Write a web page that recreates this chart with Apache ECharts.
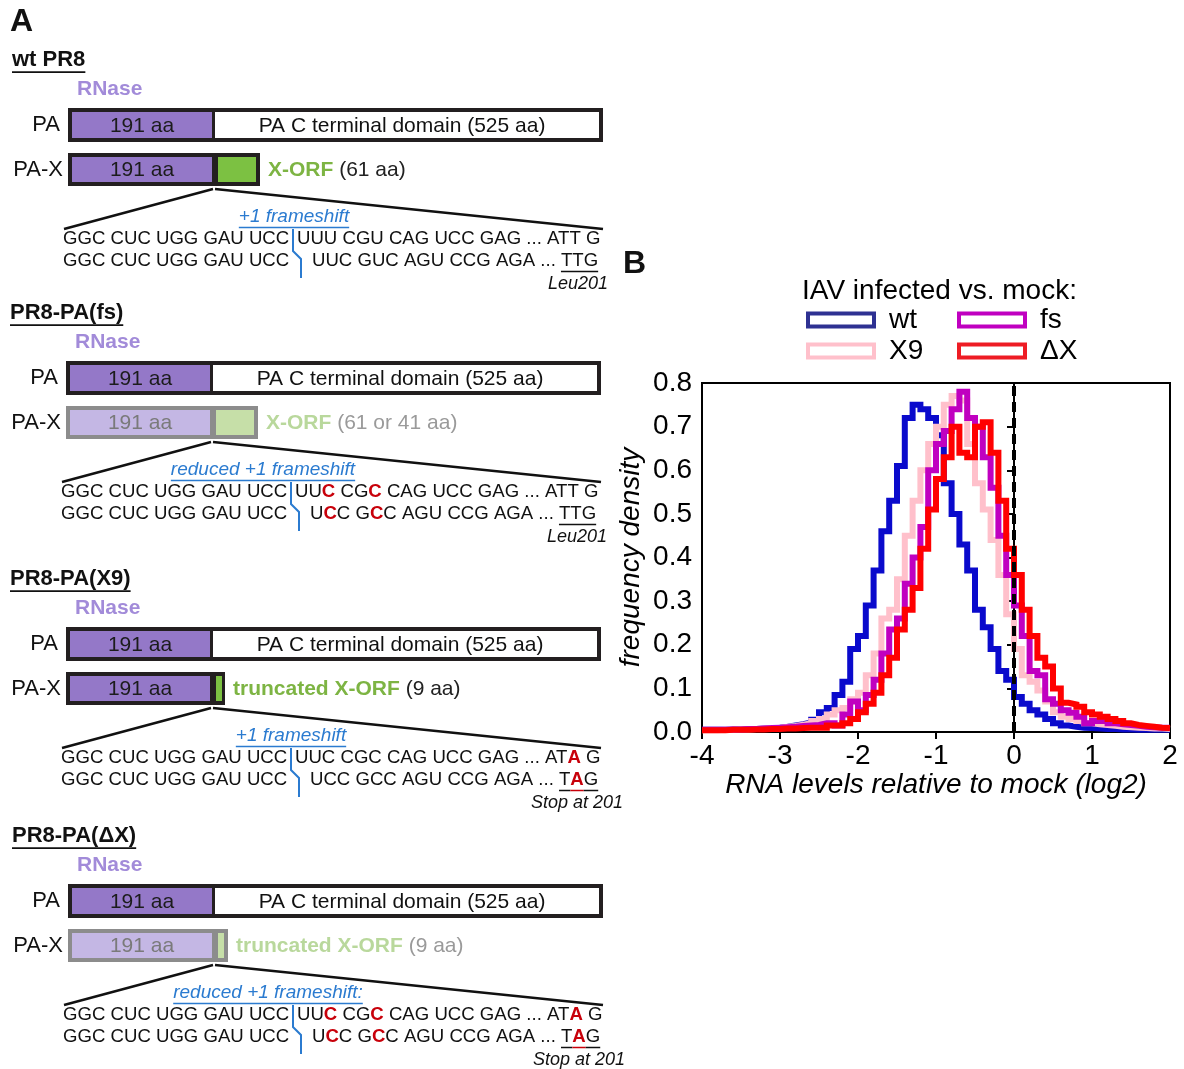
<!DOCTYPE html>
<html>
<head>
<meta charset="utf-8">
<script src="https://cdn.jsdelivr.net/npm/echarts@6/dist/echarts.min.js"></script>
<style>
html, body { margin: 0; padding: 0; background: #fff; }
#chart { width: 1184px; height: 1069px; }
</style>
</head>
<body>
<div id="chart"></div>
<script>
const FONT = "'Liberation Sans', Arial, Helvetica, sans-serif"
const INK = '#111'
const RED = '#c8000a'
const BLUE = '#2b7bd0'
const PURPLE = '#9478c8'
const PURPLE_L = '#c4b7e4'
const GREEN = '#7cc142'
const GREEN_L = '#c6dfa8'

// histogram bins: left edges start at -4, width 0.1 (60 bins to 2.0)
const binStart = -4
const binWidth = 0.1
const wtDensity = [
  0.005, 0.005, 0.005, 0.006, 0.006, 0.007, 0.007, 0.008, 0.009, 0.010,
  0.012, 0.015, 0.018, 0.022, 0.028, 0.045, 0.055, 0.085, 0.115, 0.19,
  0.22, 0.29, 0.37, 0.46, 0.53, 0.61, 0.72, 0.75, 0.74, 0.72,
  0.68, 0.57, 0.50, 0.43, 0.37, 0.28, 0.24, 0.19, 0.14, 0.12,
  0.08, 0.065, 0.05, 0.04, 0.03, 0.02, 0.015, 0.012, 0.010, 0.009,
  0.008, 0.007, 0.007, 0.006, 0.006, 0.005, 0.005, 0.005, 0.005, 0.005
]
const x9Density = [
  0.004, 0.004, 0.005, 0.005, 0.006, 0.006, 0.007, 0.008, 0.009, 0.010,
  0.012, 0.014, 0.017, 0.020, 0.025, 0.03, 0.04, 0.05, 0.055, 0.075,
  0.09, 0.13, 0.18, 0.26, 0.28, 0.35, 0.45, 0.53, 0.60, 0.66,
  0.70, 0.75, 0.77, 0.76, 0.66, 0.57, 0.51, 0.44, 0.36, 0.27,
  0.19, 0.13, 0.115, 0.095, 0.07, 0.045, 0.035, 0.03, 0.025, 0.02,
  0.018, 0.016, 0.014, 0.012, 0.011, 0.010, 0.009, 0.008, 0.008, 0.007
]
const fsDensity = [
  0.005, 0.005, 0.005, 0.006, 0.006, 0.007, 0.007, 0.008, 0.009, 0.010,
  0.011, 0.012, 0.014, 0.015, 0.016, 0.02, 0.02, 0.015, 0.04, 0.07,
  0.05, 0.085, 0.12, 0.18, 0.235, 0.26, 0.34, 0.40, 0.47, 0.60,
  0.66, 0.69, 0.74, 0.78, 0.72, 0.70, 0.63, 0.56, 0.45, 0.36,
  0.29, 0.22, 0.14, 0.13, 0.075, 0.065, 0.05, 0.044, 0.035, 0.02,
  0.025, 0.025, 0.02, 0.018, 0.016, 0.014, 0.012, 0.011, 0.010, 0.010
]
const dxDensity = [
  0.004, 0.004, 0.004, 0.005, 0.005, 0.005, 0.006, 0.006, 0.007, 0.007,
  0.008, 0.008, 0.009, 0.010, 0.010, 0.01, 0.015, 0.015, 0.02, 0.03,
  0.045, 0.065, 0.09, 0.13, 0.17, 0.235, 0.28, 0.33, 0.42, 0.51,
  0.58, 0.63, 0.70, 0.64, 0.63, 0.70, 0.71, 0.64, 0.53, 0.42,
  0.36, 0.28, 0.22, 0.17, 0.15, 0.10, 0.067, 0.063, 0.058, 0.045,
  0.04, 0.035, 0.03, 0.025, 0.02, 0.016, 0.014, 0.012, 0.010, 0.009
]
const seriesNames = ['wt', 'X9', 'fs', 'ΔX']
const seriesValues = [wtDensity, x9Density, fsDensity, dxDensity]
const seriesColors = ['#0a0acc', '#ffc0cb', '#c000c0', '#ff0000']
const legendColors = ['#2e3192', '#ffc0cb', '#c000c0', '#ee1c24']

// panel A constructs
const blocks = [
  {
    dx: 0, dy: 0, title: 'wt PR8', faded: false, paxW: 192, orfW: 38,
    orfLabel: 'X-ORF', orfLen: '(61 aa)', shift: '+1 frameshift', shiftCx: 294,
    seq1: [['UUU CGU CAG UCC GAG ... ATT G']],
    seq2: [['UUC GUC AGU CCG AGA ... '], ['TTG', 'u']],
    note: 'Leu201', noteX: 608
  },
  {
    dx: -2, dy: 253, title: 'PR8-PA(fs)', faded: true, paxW: 192, orfW: 38,
    orfLabel: 'X-ORF', orfLen: '(61 or 41 aa)', shift: 'reduced +1 frameshift', shiftCx: 265,
    seq1: [['UU'], ['C', 'r'], [' CG'], ['C', 'r'], [' CAG UCC GAG ... ATT G']],
    seq2: [['U'], ['C', 'r'], ['C G'], ['C', 'r'], ['C AGU CCG AGA ... '], ['TTG', 'u']],
    note: 'Leu201', noteX: 609
  },
  {
    dx: -2, dy: 519, title: 'PR8-PA(X9)', faded: false, paxW: 159, orfW: 6,
    orfLabel: 'truncated X-ORF', orfLen: '(9 aa)', shift: '+1 frameshift', shiftCx: 293,
    seq1: [['UUC CGC CAG UCC GAG ... AT'], ['A', 'r'], [' G']],
    seq2: [['UCC GCC AGU CCG AGA ... '], ['T', 'u'], ['A', 'ru'], ['G', 'u']],
    note: 'Stop at 201', noteX: 625
  },
  {
    dx: 0, dy: 776, title: 'PR8-PA(ΔX)', faded: true, paxW: 160, orfW: 6,
    orfLabel: 'truncated X-ORF', orfLen: '(9 aa)', shift: 'reduced +1 frameshift:', shiftCx: 268,
    seq1: [['UU'], ['C', 'r'], [' CG'], ['C', 'r'], [' CAG UCC GAG ... AT'], ['A', 'r'], [' G']],
    seq2: [['U'], ['C', 'r'], ['C G'], ['C', 'r'], ['C AGU CCG AGA ... '], ['T', 'u'], ['A', 'ru'], ['G', 'u']],
    note: 'Stop at 201', noteX: 625
  }
]

function histLine(values) {
  const pts = values.map((v, i) => [+(binStart + i * binWidth).toFixed(2), v])
  pts.push([+(binStart + values.length * binWidth).toFixed(2), values[values.length - 1]])
  return pts
}

const measure = document.createElement('canvas').getContext('2d')
function widthOf(text, size, weight = 'normal', style = 'normal') {
  measure.font = `${style} ${weight} ${size}px ${FONT}`
  return measure.measureText(text).width
}

const g = []
function txt(text, x, y, o = {}) {
  g.push({
    type: 'text', silent: true,
    style: {
      text, x, y, fill: o.fill || INK, fontSize: o.size || 21, fontFamily: FONT,
      fontWeight: o.weight || 'normal', fontStyle: o.style || 'normal',
      align: o.align || 'left', verticalAlign: 'middle'
    }
  })
}
function rect(x, y, w, h, fill) {
  g.push({ type: 'rect', silent: true, shape: { x, y, width: w, height: h }, style: { fill } })
}
function seg(x1, y1, x2, y2, stroke = INK, lw = 2) {
  g.push({ type: 'line', silent: true, shape: { x1, y1, x2, y2 }, style: { stroke, lineWidth: lw } })
}
function underlined(text, x, y, o) {
  const w = widthOf(text, o.size, o.weight, o.style)
  const x0 = o.align === 'center' ? x - w / 2 : x
  txt(text, x, y, o)
  seg(x0, y + o.size * 0.55, x0 + w, y + o.size * 0.55, o.fill || INK, 1.6)
}
const SEQ = 18.6
function runs(x, y, parts) {
  let cx = x
  parts.forEach(([t, f = '']) => {
    const red = f.includes('r')
    const w = widthOf(t, SEQ, red ? 'bold' : 'normal')
    txt(t, cx, y, { size: SEQ, fill: red ? RED : INK, weight: red ? 'bold' : 'normal' })
    if (f.includes('u')) seg(cx, y + 10.5, cx + w, y + 10.5, red ? RED : INK, 1.5)
    cx += w
  })
}

txt('A', 10, 22, { size: 32, weight: 'bold' })
txt('B', 623, 264, { size: 32, weight: 'bold' })

blocks.forEach(b => {
  const X = v => v + b.dx
  const Y = v => v + b.dy
  const frame = b.faded ? '#8c8c8c' : '#231f20'
  underlined(b.title, X(12), Y(60), { size: 22, weight: 'bold' })
  txt('RNase', X(77), Y(89), { size: 21, weight: 'bold', fill: '#a28bd9' })

  txt('PA', X(60), Y(125), { size: 22, align: 'right' })
  rect(X(68), Y(108), 535, 34, '#231f20')
  rect(X(72), Y(112), 140, 26, PURPLE)
  rect(X(215), Y(112), 384, 26, '#fff')
  txt('191 aa', X(142), Y(126), { size: 21, align: 'center', fill: '#1c1c1c' })
  txt('PA C terminal domain (525 aa)', X(402), Y(126), { size: 21, align: 'center' })

  txt('PA-X', X(63), Y(170), { size: 22, align: 'right' })
  rect(X(68), Y(153), b.paxW, 33, frame)
  rect(X(72), Y(157), 140, 25, b.faded ? PURPLE_L : PURPLE)
  rect(X(218), Y(157), b.orfW, 25, b.faded ? GREEN_L : GREEN)
  txt('191 aa', X(142), Y(170), { size: 21, align: 'center', fill: b.faded ? '#7a7a7a' : '#1c1c1c' })
  const lx = X(68 + b.paxW + 8)
  txt(b.orfLabel, lx, Y(170), { size: 21, weight: 'bold', fill: b.faded ? '#b9d89c' : '#7db443' })
  txt(' ' + b.orfLen, lx + widthOf(b.orfLabel, 21, 'bold'), Y(170), { size: 21, fill: b.faded ? '#9a9a9a' : '#222' })

  seg(X(213), Y(189), X(64), Y(229), INK, 2.5)
  seg(X(215), Y(189), X(603), Y(229), INK, 2.5)
  underlined(b.shift, X(b.shiftCx), Y(217), { size: 19, style: 'italic', fill: BLUE, align: 'center' })

  runs(X(63), Y(239), [['GGC CUC UGG GAU UCC']])
  runs(X(297), Y(239), b.seq1)
  runs(X(63), Y(261), [['GGC CUC UGG GAU UCC']])
  runs(X(312), Y(261), b.seq2)
  g.push({
    type: 'polyline', silent: true,
    shape: { points: [[X(293), Y(229)], [X(293), Y(251)], [X(301), Y(259)], [X(301), Y(278)]] },
    style: { stroke: BLUE, lineWidth: 2, fill: null }
  })
  txt(b.note, X(b.noteX), Y(284), { size: 18, style: 'italic', align: 'right' })
})

const ringIcon = 'path://M0,0H70V17H0Z M4,4V13H66V4Z'
function legendBlock(names, left) {
  return {
    data: names.map(n => ({ name: n, itemStyle: { color: legendColors[seriesNames.indexOf(n)], borderWidth: 0 } })),
    orient: 'vertical', left, top: 306, padding: 0,
    icon: ringIcon, itemWidth: 70, itemHeight: 17, itemGap: 3,
    selectedMode: false,
    textStyle: { fontSize: 28, color: '#000', fontFamily: FONT, padding: [0, 0, 0, 8] }
  }
}

const axisText = { fontSize: 28, color: '#000', fontFamily: FONT }
const chart = echarts.init(document.getElementById('chart'))
chart.setOption({
  animation: false,
  backgroundColor: '#fff',
  textStyle: { fontFamily: FONT },
  title: {
    text: 'IAV infected vs. mock:', left: 802, top: 277, padding: 0,
    textStyle: { fontSize: 28, fontWeight: 'normal', color: '#000', fontFamily: FONT }
  },
  legend: [legendBlock(['wt', 'X9'], 806), legendBlock(['fs', 'ΔX'], 957)],
  grid: { left: 702, top: 383, width: 468, height: 349, show: true, borderColor: '#000', borderWidth: 2 },
  xAxis: {
    type: 'value', min: -4, max: 2, interval: 1,
    name: 'RNA levels relative to mock (log2)', nameLocation: 'middle', nameGap: 36,
    nameTextStyle: { ...axisText, fontStyle: 'italic' },
    axisLine: { lineStyle: { color: '#000', width: 2 } },
    axisTick: { length: 7, lineStyle: { color: '#000', width: 2 } },
    axisLabel: { ...axisText, margin: 10 },
    splitLine: { show: false }
  },
  yAxis: {
    type: 'value', min: 0, max: 0.8, interval: 0.1,
    name: 'frequency density', nameLocation: 'middle', nameGap: 57,
    nameTextStyle: { ...axisText, fontStyle: 'italic', padding: [0, 0, 0, 0] },
    axisLine: { show: true, lineStyle: { color: '#000', width: 2 } },
    axisTick: { show: true, length: 7, lineStyle: { color: '#000', width: 2 } },
    axisLabel: { ...axisText, margin: 10, formatter: v => v.toFixed(1) },
    splitLine: { show: false }
  },
  series: seriesNames.map((name, i) => ({
    name, type: 'line', step: 'end', showSymbol: false, symbol: 'none',
    data: histLine(seriesValues[i]),
    itemStyle: { color: seriesColors[i] },
    lineStyle: { color: seriesColors[i], width: 6, join: 'miter', cap: 'butt' },
    z: 2 + i,
    markLine: i === seriesNames.length - 1 ? {
      silent: true, symbol: 'none', label: { show: false }, z: 10,
      lineStyle: { color: '#000', width: 4, type: [10, 6] },
      data: [{ xAxis: 0 }]
    } : undefined
  })),
  graphic: g
})
</script>
</body>
</html>
